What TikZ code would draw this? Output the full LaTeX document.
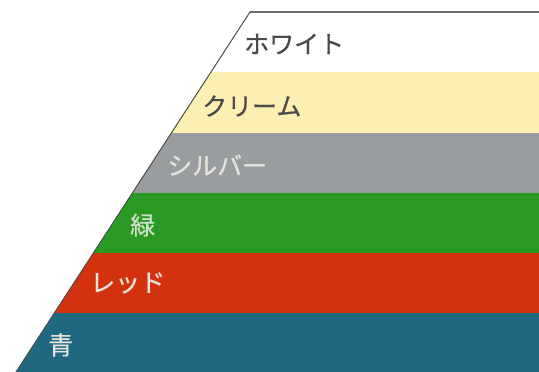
\documentclass[tikz,border=0pt]{standalone}
\usepackage{fontspec}
\newfontfamily\jpfont[FakeBold=0.6]{Noto Sans CJK JP}
\definecolor{cream}{HTML}{FBF0B2}
\definecolor{silver}{HTML}{999D9F}
\definecolor{leaf}{HTML}{2B9A25}
\definecolor{redband}{HTML}{D2330E}
\definecolor{teal}{HTML}{1F6880}
\definecolor{edgegray}{HTML}{6E6E6E}
\definecolor{darktext}{HTML}{4A4A4A}
\definecolor{lighttext}{HTML}{E4E4DC}
\tikzset{
  band/.style={draw=none},
  lbl/.style={anchor=west, inner sep=0pt, font=\jpfont\fontsize{25}{25}\selectfont},
}
\begin{document}
\begin{tikzpicture}[x=1pt,y=-1pt]
\useasboundingbox (0,0) rectangle (539,372);
\fill[white] (0,0) rectangle (539,372);
% left edge: x = 250 - 0.65*(y-12)
\fill[band,white]    (250,12) -- (539,12) -- (539,72) -- (210.95,72) -- cycle;
\fill[band,cream]    (210.95,72) -- (539,72) -- (539,133) -- (171.35,133) -- cycle;
\fill[band,silver]   (171.35,133) -- (539,133) -- (539,193) -- (132.35,193) -- cycle;
\fill[band,leaf]     (132.35,193) -- (539,193) -- (539,253) -- (93.35,253) -- cycle;
\fill[band,redband]  (93.35,253) -- (539,253) -- (539,313) -- (54.35,313) -- cycle;
\fill[band,teal]     (54.35,313) -- (539,313) -- (539,372) -- (16,372) -- cycle;
\draw[edgegray, line width=1.8pt] (539,12) -- (250,12);
\draw[edgegray!70!black, line width=1pt] (250,12) -- (16,372);
\node[lbl, text=darktext]  (w) at (244,44)  {ホワイト};
\node[lbl, text=darktext]  (c) at (202,106) {クリーム};
\node[lbl, text=lighttext] (s) at (167,165) {シルバー};
\node[lbl, text=lighttext!90!leaf] (g) at (130,225) {緑};
\node[lbl, text=lighttext] (r) at (90,283)  {レッド};
\node[lbl, text=lighttext] (b) at (48,345)  {青};
\end{tikzpicture}
\end{document}
